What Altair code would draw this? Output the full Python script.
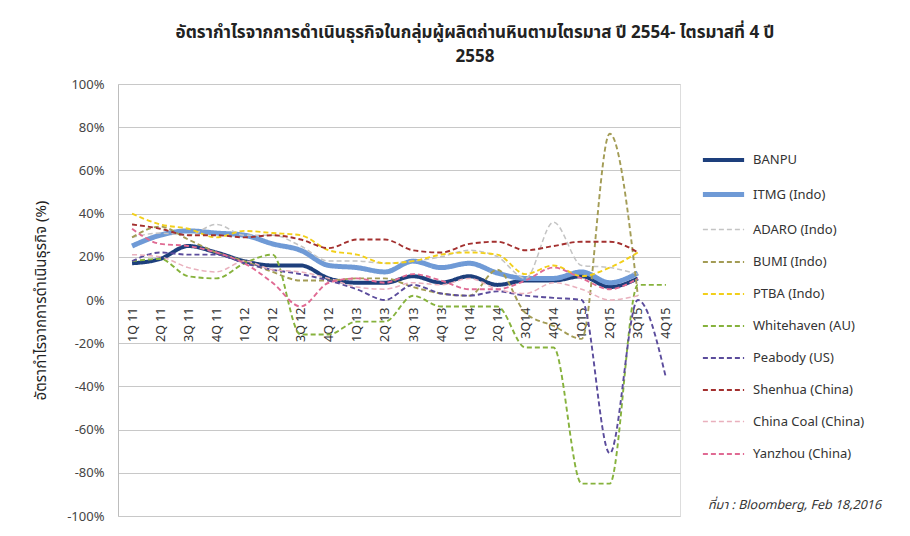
import altair as alt
import pandas as pd

quarters = ["1Q 11", "2Q 11", "3Q 11", "4Q 11", "1Q 12", "2Q 12", "3Q 12", "4Q 12",
            "1Q 13", "2Q 13", "3Q 13", "4Q 13", "1Q 14", "2Q 14", "3Q14", "4Q14",
            "1Q15", "2Q15", "3Q15", "4Q15"]

series_names = ["BANPU", "ITMG (Indo)", "ADARO (Indo)", "BUMI (Indo)", "PTBA (Indo)",
                "Whitehaven (AU)", "Peabody (US)", "Shenhua (China)",
                "China Coal (China)", "Yanzhou (China)"]

banpu = [17, 19, 25, 22, 18, 16, 16, 10, 8, 8, 11, 8, 11, 7, 9, 9, 11, 6, 10, None]
itmg = [25, 30, 32, 31, 30, 26, 23, 16, 15, 13, 18, 15, 17, 12.5, 10, 10, 13, 8, 12.5, None]
adaro = [29, 31, 30, 35, 30, 30, 25, 18, 18, 17, 18, 20, 23, 20, 10, 36, 16, 15, 12, None]
bumi = [29, 34, 28, 22, 18, 13, 9, 9, 10, 10, 6, 3, 2, 14, -6, -12, -18, 77, 2, None]
ptba = [40, 35, 33, 29, 32, 31, 30, 23, 21, 17, 18, 21, 22, 21, 12, 16, 11, 15, 22, None]
whitehaven = [18, 19, 11, 10, 17, 21, -16, -16, -10, -10, 2, -3, -3, -3, -22, -22, -85, -85, 7, 7]
peabody = [18, 22, 21, 21, 17, 14, 12, 9, 5, 0, 7, 3, 2, 4, 2, 1, 0, -71, 0, -36]
shenhua = [35, 33, 30, 30, 29, 30, 28, 24, 28, 28, 23, 22, 26, 27, 23, 25, 27, 27, 22, None]
china_coal = [21, 20, 15, 13, 18, 14, 13, 10, 6, 5, 8, 7, 10, 5, 3, 8, 5, 0, 2, None]
yanzhou = [33, 26, 25, 22, 17, 8, -3, 8, 10, 8, 12, 9, 5, 5, 9, 15, 10, 5, 10, None]

all_values = [banpu, itmg, adaro, bumi, ptba, whitehaven, peabody, shenhua, china_coal, yanzhou]

colors = ["#1d3f7c", "#6f9ad6", "#c4c4c4", "#a39c55", "#f2cf1a", "#86b23c",
          "#5b4c9c", "#a3302f", "#e9b0bd", "#e06a93"]
widths = [4, 5, 1.5, 1.9, 1.9, 1.9, 1.9, 1.9, 1.5, 1.9]
dashes = [[1, 0], [1, 0]] + [[5, 3]] * 8

title_lines = ["อัตรากำไรจากการดำเนินธุรกิจในกลุ่มผู้ผลิตถ่านหินตามไตรมาส ปี 2554- ไตรมาสที่ 4 ปี", "2558"]
y_title = "อัตรากำไรจากการดำเนินธุรกิจ (%)"
source_note = "ที่มา : Bloomberg, Feb 18,2016"

rows = []
for name, vals in zip(series_names, all_values):
    for q, v in zip(quarters, vals):
        if v is not None:
            rows.append({"quarter": q, "series": name, "value": v})
df = pd.DataFrame(rows)

W, H = 562, 432
FONT = "Noto Sans Thai, Lato, DejaVu Sans, sans-serif"

leg = alt.Legend(title=None, orient="none", legendX=582, legendY=53,
                 symbolType="stroke", symbolSize=1700, labelFontSize=13,
                 labelColor="#333", rowPadding=3, labelOffset=6, labelFont=FONT)

lines = alt.Chart(df).mark_line(interpolate="monotone").encode(
    x=alt.X("quarter:N", sort=quarters, scale=alt.Scale(domain=quarters),
            axis=alt.Axis(title=None, labelAngle=270, offset=-H / 2, domain=False,
                          ticks=False, grid=False, labelFontSize=12.5,
                          labelColor="#333", labelPadding=7, labelFont=FONT)),
    y=alt.Y("value:Q", scale=alt.Scale(domain=[-100, 100], nice=False),
            axis=alt.Axis(values=list(range(-100, 101, 20)),
                          labelExpr="datum.value + '%'", title=y_title,
                          titleFontSize=15, titleFontWeight="normal", titleColor="#222",
                          titlePadding=18, labelFontSize=13, labelColor="#444",
                          labelPadding=14, ticks=False, domainColor="#bdbdbd",
                          gridColor="#c8c8c8", labelFont=FONT, titleFont=FONT)),
    color=alt.Color("series:N", sort=series_names,
                    scale=alt.Scale(domain=series_names, range=colors), legend=leg),
    strokeDash=alt.StrokeDash("series:N", sort=series_names,
                              scale=alt.Scale(domain=series_names, range=dashes), legend=leg),
    strokeWidth=alt.StrokeWidth("series:N", sort=series_names,
                                scale=alt.Scale(type="ordinal", domain=series_names, range=widths),
                                legend=leg),
)

note = alt.Chart(pd.DataFrame({"t": [source_note]})).mark_text(
    align="left", baseline="middle", fontSize=12.5, fontStyle="italic",
    color="#333", font=FONT
).encode(text="t:N", x=alt.value(590), y=alt.value(421))

chart = alt.layer(lines, note).properties(
    width=W, height=H,
    title=alt.TitleParams(text=title_lines, fontSize=17, fontWeight="bold",
                          anchor="middle", dx=76, offset=12, color="#222",
                          lineHeight=24, font=FONT),
    autosize=alt.AutoSizeParams(type="none"),
    padding={"left": 110, "top": 76, "right": 214, "bottom": 12},
).configure_view(strokeWidth=0).configure(background="white")

chart.save("out.html", embed_options={"renderer": "svg", "actions": False})
